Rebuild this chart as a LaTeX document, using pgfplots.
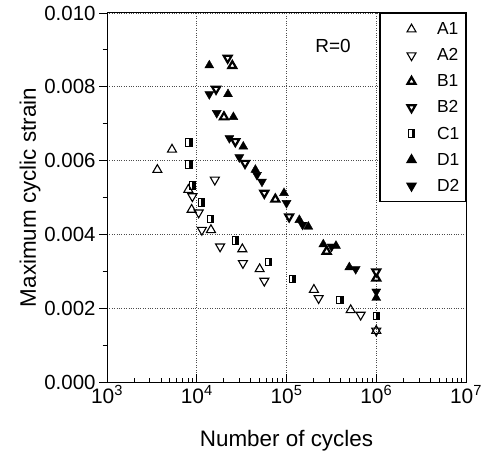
\documentclass[border=0pt]{standalone}
\usepackage{fontspec}
\setmainfont{Liberation Sans}
\usepackage{pgfplots}
\pgfplotsset{compat=1.18}
\usetikzlibrary{plotmarks}

% rectangle, right half filled (C1)
\pgfdeclareplotmark{halfsq}{%
  \pgfpathrectangle{\pgfpoint{0pt}{-\pgfplotmarksize}}{\pgfpoint{0.8\pgfplotmarksize}{2\pgfplotmarksize}}%
  \pgfusepathqfill
  \pgfpathrectangle{\pgfpoint{-0.8\pgfplotmarksize}{-\pgfplotmarksize}}{\pgfpoint{1.6\pgfplotmarksize}{2\pgfplotmarksize}}%
  \pgfusepathqstroke}

\pgfplotsset{lgimg/.style={legend image code/.code={%
  \path (-28bp,0bp) (22bp,0bp);
  \draw[##1] plot coordinates {(0bp,0bp)};}}}

\begin{document}
\begin{tikzpicture}
\begin{axis}[
  at={(0,0)}, anchor=south west,
  scale only axis, width=359bp, height=369bp,
  xmode=log, xmin=1e3, xmax=1e7,
  ymin=0, ymax=0.010,
  xtick={1e3,1e4,1e5,1e6,1e7},
  xticklabels={10\textsuperscript{3},10\textsuperscript{4},10\textsuperscript{5},10\textsuperscript{6},10\textsuperscript{7}},
  ytick={0,0.002,0.004,0.006,0.008,0.010},
  minor y tick num=1,
  scaled y ticks=false,
  xticklabel style={font=\fontsize{21}{22}\selectfont},
  yticklabel style={font=\fontsize{20.5}{22}\selectfont, /pgf/number format/.cd, fixed, fixed zerofill, precision=3, assume math mode=true},
  xlabel={Number of cycles}, ylabel={Maximum cyclic strain},
  label style={font=\fontsize{22.5}{24}\selectfont},
  xlabel style={at={(axis description cs:0.5,-0.16)}, anchor=center},
  ylabel style={at={(axis description cs:-0.2145,0.5)}, anchor=center},
  xtick pos=bottom, ytick pos=left,
  xtick align=inside, ytick align=outside,
  grid=major, major grid style={black!70, dotted, line width=0.6bp},
  axis line style={line width=1bp},
  tick style={black, line width=0.8bp},
  major tick length=8bp, minor tick length=4.5bp,
  legend style={at={(1,1)}, anchor=north east, draw=black, line width=1.2bp,
    font=\fontsize{17.5}{19}\selectfont, inner xsep=3bp, inner ysep=6bp, row sep=6.5bp,
    nodes={inner sep=3bp}},
  legend cell align=left,
]
% A1 open up triangles
\addplot[black, only marks, mark=triangle, mark size=5.2bp, mark options={line width=1.1bp}, lgimg]
  coordinates {(3640,0.00575) (5300,0.00630) (8060,0.00521) (8770,0.00467) (14400,0.00412)
  (32200,0.00360) (50200,0.00306) (202000,0.00250) (519000,0.00195) (1000000,0.00139)};
% A2 open down triangles
\addplot[black, only marks, mark=triangle, mark size=5.2bp, mark options={rotate=180, line width=1.1bp}, lgimg]
  coordinates {(8930,0.00503) (10500,0.00459) (11400,0.00412) (15900,0.00548) (18200,0.00367)
  (32700,0.00322) (56600,0.00274) (228000,0.00227) (670000,0.00182) (1000000,0.00139)};
% B1 heavy up triangles
\addplot[black, only marks, mark=triangle*, mark size=4.6bp, mark options={fill=white, line width=2.2bp}, lgimg]
  coordinates {(24900,0.00857) (20100,0.00718) (75100,0.00495) (280000,0.00354) (1000000,0.00281)};
% B2 heavy down triangles
\addplot[black, only marks, mark=triangle*, mark size=4.6bp, mark options={rotate=180, fill=white, line width=2.2bp}, lgimg]
  coordinates {(22100,0.00878) (16400,0.00794) (26900,0.00652) (34500,0.00593) (56600,0.00512)
  (107000,0.00448) (1000000,0.00299)};
% C1 half filled rectangles
\addplot[black, only marks, mark=halfsq, mark size=3.9bp, mark options={line width=1bp}, lgimg]
  coordinates {(8200,0.00649) (8200,0.00589) (8930,0.00533) (11200,0.00487) (14300,0.00442)
  (26900,0.00383) (63200,0.00325) (116000,0.00279) (394000,0.00222) (1000000,0.00179)};
% D1 filled up triangles
\addplot[black, only marks, mark=triangle*, mark size=5.2bp, mark options={fill=black}, lgimg]
  coordinates {(13800,0.00858) (22300,0.00780) (25600,0.00718) (33000,0.00638) (45000,0.00575)
  (93800,0.00512) (139000,0.00439) (175000,0.00421) (257000,0.00373) (356000,0.00369)
  (501000,0.00311) (1000000,0.00228)};
% D2 filled down triangles
\addplot[black, only marks, mark=triangle*, mark size=5.2bp, mark options={rotate=180, fill=black}, lgimg]
  coordinates {(13800,0.00780) (16700,0.00729) (23100,0.00661) (29800,0.00609) (46900,0.00561)
  (53300,0.00543) (100000,0.00485) (151000,0.00426) (318000,0.00367) (590000,0.00306)
  (1000000,0.00245)};
\legend{A1,A2,B1,B2,C1,D1,D2}
\node[font=\fontsize{19}{20}\selectfont] at (axis cs:3.3e5,0.0091) {R=0};
\end{axis}
\pgfresetboundingbox
\path[use as bounding box] (-107bp,-75bp) rectangle (375bp,382bp);
\end{tikzpicture}
\end{document}
